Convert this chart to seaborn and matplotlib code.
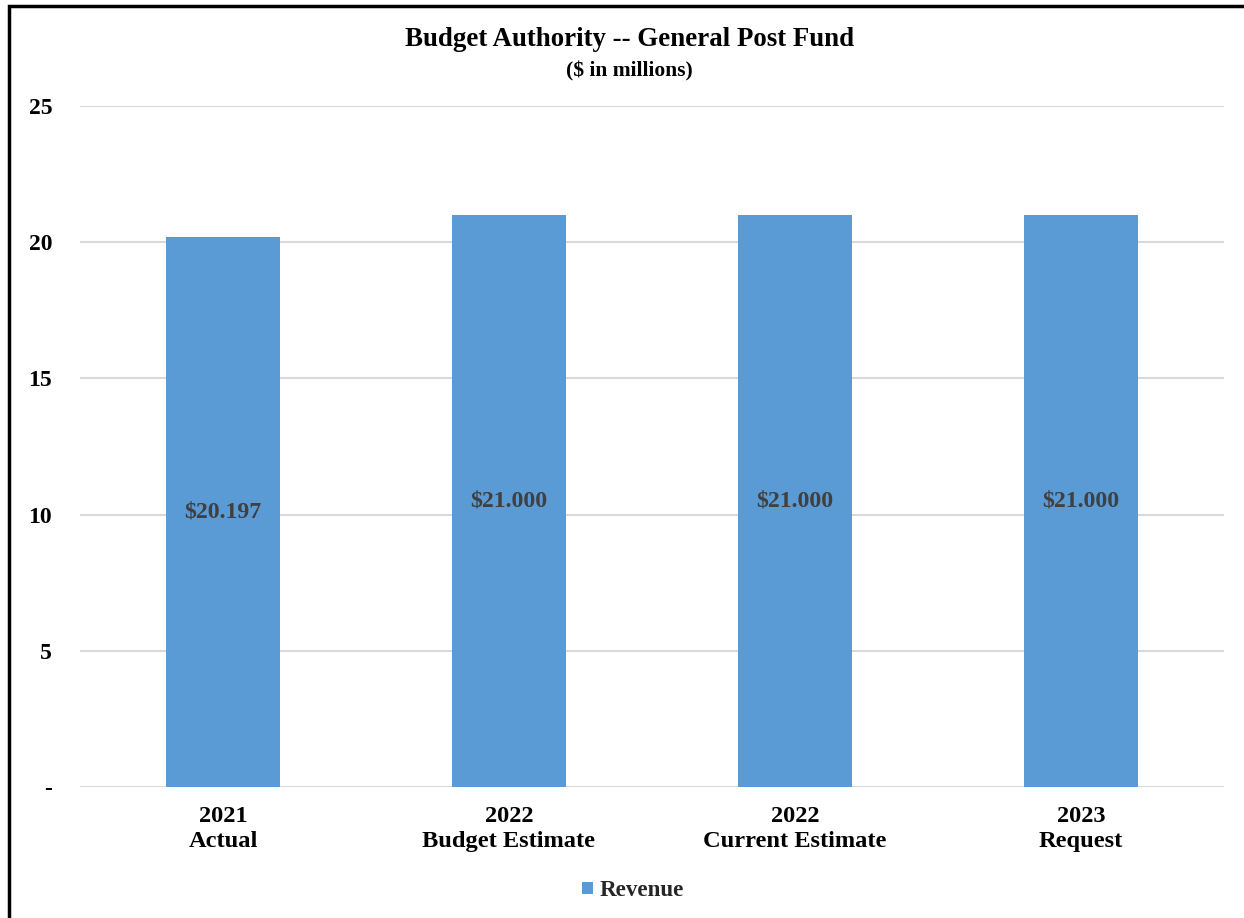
import matplotlib
matplotlib.use("Agg")
import matplotlib.pyplot as plt
import seaborn as sns
import pandas as pd
from matplotlib.patches import Rectangle, Patch

categories = ["2021\nActual", "2022\nBudget Estimate", "2022\nCurrent Estimate", "2023\nRequest"]
values = [20.197, 21.000, 21.000, 21.000]
series_name = "Revenue"
yticks = [0, 5, 10, 15, 20, 25]
ytick_labels = ["-", "5", "10", "15", "20", "25"]
title = "Budget Authority -- General Post Fund"
subtitle = "($ in millions)"

sns.set_theme(style="white")
plt.rcParams['font.family'] = ['Liberation Serif', 'DejaVu Serif']

df = pd.DataFrame({"cat": categories, "val": values})

fig = plt.figure(figsize=(12.44, 9.18), dpi=100)
ax = fig.add_axes([80/1244, 1-787/918, (1224-80)/1244, (787-106)/918])

color = "#5B9BD5"
sns.barplot(data=df, x="cat", y="val", color=color, width=0.4, ax=ax,
            saturation=1, linewidth=0, edgecolor="none", zorder=3)

ax.set_ylim(0, 25)
ax.set_xlim(-0.5, len(categories) - 0.5)
ax.set_yticks(yticks)
ax.set_yticklabels(ytick_labels, fontsize=17, fontweight="bold", color="black")
ax.tick_params(axis="y", length=0, pad=20)
ax.tick_params(axis="x", length=0, pad=14)
for lbl in ax.get_xticklabels():
    lbl.set_fontsize(17.6)
    lbl.set_fontweight("bold")
    lbl.set_color("black")
    lbl.set_linespacing(1.2)
ax.set_xlabel("")
ax.set_ylabel("")
ax.yaxis.grid(True, color="#D9D9D9", linewidth=1.5, zorder=0)
ax.set_axisbelow(True)
for s in ["top", "right", "left", "bottom"]:
    ax.spines[s].set_visible(False)

for i, v in enumerate(values):
    ax.text(i, v / 2, f"${v:.3f}", ha="center", va="center", fontsize=17.2,
            fontweight="bold", color="#404040", zorder=4)

fig.text(630/1244, 1-39/918, title, ha="center", va="center", fontsize=19.4,
         fontweight="bold", color="black")
fig.text(629/1244, 1-71/918, subtitle, ha="center", va="center", fontsize=15.5,
         fontweight="bold", color="black")

handle = Patch(facecolor=color, edgecolor="none", label=series_name)
leg = fig.legend(handles=[handle], loc="center", bbox_to_anchor=(633/1244, 1-891/918),
                 frameon=False, prop={"size": 16.6, "weight": "bold"},
                 handlelength=0.45, handleheight=0.45, handletextpad=0.3)

fig.patches.append(Rectangle((9/1244, -0.1), 1.2, 1 - 6/918 + 0.1, transform=fig.transFigure,
                             fill=False, edgecolor="black", linewidth=2.5, zorder=10))

fig.savefig("out.png", dpi=100, facecolor="white")
